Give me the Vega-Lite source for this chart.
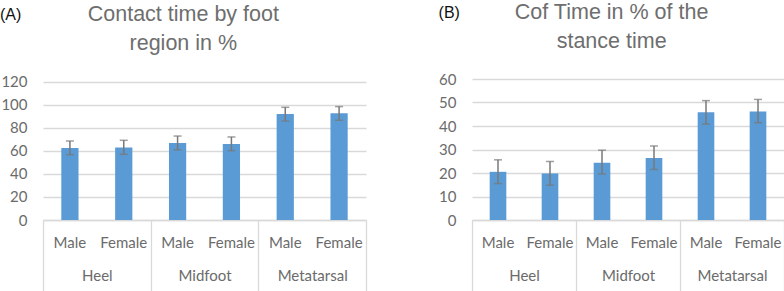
{
  "$schema": "https://vega.github.io/schema/vega-lite/v6.json",
  "padding": {"left": 0, "top": 1, "right": 0, "bottom": 0},
  "background": "white",
  "config": {
    "view": {"stroke": null},
    "font": "Lato",
    "axis": {"labelFont": "Lato", "labelFontSize": 15, "labelColor": "#6b6b6b"}
  },
  "datasets": {
    "a": [
      {"key": "Heel Male", "region": "Heel", "sex": "Male", "mean": 62.5, "lo": 56.8, "hi": 68.7},
      {"key": "Heel Female", "region": "Heel", "sex": "Female", "mean": 63, "lo": 57.1, "hi": 69.3},
      {"key": "Midfoot Male", "region": "Midfoot", "sex": "Male", "mean": 67, "lo": 61, "hi": 73},
      {"key": "Midfoot Female", "region": "Midfoot", "sex": "Female", "mean": 66.1, "lo": 60.3, "hi": 72.2},
      {"key": "Metatarsal Male", "region": "Metatarsal", "sex": "Male", "mean": 92.2, "lo": 86, "hi": 98},
      {"key": "Metatarsal Female", "region": "Metatarsal", "sex": "Female", "mean": 92.8, "lo": 86.7, "hi": 98.6}
    ],
    "b": [
      {"key": "Heel Male", "region": "Heel", "sex": "Male", "mean": 20.5, "lo": 15.5, "hi": 25.6},
      {"key": "Heel Female", "region": "Heel", "sex": "Female", "mean": 19.8, "lo": 14.8, "hi": 24.9},
      {"key": "Midfoot Male", "region": "Midfoot", "sex": "Male", "mean": 24.4, "lo": 19.6, "hi": 29.7},
      {"key": "Midfoot Female", "region": "Midfoot", "sex": "Female", "mean": 26.4, "lo": 21.5, "hi": 31.5},
      {"key": "Metatarsal Male", "region": "Metatarsal", "sex": "Male", "mean": 45.9, "lo": 40.8, "hi": 50.8},
      {"key": "Metatarsal Female", "region": "Metatarsal", "sex": "Female", "mean": 46.2, "lo": 41.4, "hi": 51.3}
    ]
  },
  "hconcat": [
    {
      "title": {"text": "(A)", "anchor": "start", "font": "Liberation Sans", "fontSize": 16, "fontWeight": "normal", "color": "#111111", "offset": -19},
      "vconcat": [
        {
          "width": 323,
          "height": 141,
          "title": {"text": ["Contact time by foot", "region in %"], "anchor": "middle", "frame": "bounds", "font": "Liberation Sans", "fontSize": 21.5, "fontWeight": "normal", "color": "#6e6e6e", "lineHeight": 29, "offset": 20},
          "data": {"name": "a"},
          "layer": [
            {
              "mark": {"type": "text", "text": ""},
              "encoding": {
                "x": {"field": "region", "type": "nominal", "sort": ["Heel", "Midfoot", "Metatarsal"], "scale": {"paddingInner": 0, "paddingOuter": 0},
                  "axis": {"orient": "bottom", "title": null, "domain": true, "domainColor": "#d9d9d9", "domainWidth": 1.3, "ticks": true, "tickBand": "extent", "tickSize": 71, "tickColor": "#d9d9d9", "tickWidth": 1.3, "labelPadding": -23, "labelAngle": 0}}
              }
            },
            {
              "encoding": {
                "x": {"field": "key", "type": "nominal", "sort": ["Heel Male", "Heel Female", "Midfoot Male", "Midfoot Female", "Metatarsal Male", "Metatarsal Female"], "scale": {"paddingInner": 0, "paddingOuter": 0},
                  "axis": {"orient": "bottom", "title": null, "domain": false, "ticks": false, "tickSize": 0, "labelPadding": 15, "labelAngle": 0, "labelExpr": "split(datum.label, ' ')[1]"}}
              },
              "layer": [
                {
                  "mark": {"type": "bar", "width": {"band": 0.32}, "color": "#5b9bd5"},
                  "encoding": {
                    "y": {"field": "mean", "type": "quantitative", "scale": {"domain": [0, 122.6], "nice": false},
                      "axis": {"title": null, "values": [0, 20, 40, 60, 80, 100, 120], "labelOverlap": false, "domain": false, "ticks": false, "tickSize": 0, "labelPadding": 16, "gridColor": "#d9d9d9", "gridWidth": 1.3, "minExtent": 43, "maxExtent": 43}}
                  }
                },
                {
                  "mark": {"type": "rule", "color": "#787878", "strokeWidth": 1.5},
                  "encoding": {"y": {"field": "lo", "type": "quantitative", "scale": {"domain": [0, 122.6], "nice": false},
                      "axis": {"title": null, "values": [0, 20, 40, 60, 80, 100, 120], "labelOverlap": false, "domain": false, "ticks": false, "tickSize": 0, "labelPadding": 16, "gridColor": "#d9d9d9", "gridWidth": 1.3, "minExtent": 43, "maxExtent": 43}}, "y2": {"field": "hi"}}
                },
                {
                  "mark": {"type": "tick", "color": "#787878", "size": 8, "thickness": 1.5},
                  "encoding": {"y": {"field": "lo", "type": "quantitative", "scale": {"domain": [0, 122.6], "nice": false},
                      "axis": {"title": null, "values": [0, 20, 40, 60, 80, 100, 120], "labelOverlap": false, "domain": false, "ticks": false, "tickSize": 0, "labelPadding": 16, "gridColor": "#d9d9d9", "gridWidth": 1.3, "minExtent": 43, "maxExtent": 43}}}
                },
                {
                  "mark": {"type": "tick", "color": "#787878", "size": 8, "thickness": 1.5},
                  "encoding": {"y": {"field": "hi", "type": "quantitative", "scale": {"domain": [0, 122.6], "nice": false},
                      "axis": {"title": null, "values": [0, 20, 40, 60, 80, 100, 120], "labelOverlap": false, "domain": false, "ticks": false, "tickSize": 0, "labelPadding": 16, "gridColor": "#d9d9d9", "gridWidth": 1.3, "minExtent": 43, "maxExtent": 43}}}
                }
              ]
            }
          ],
          "resolve": {"scale": {"x": "independent"}, "axis": {"x": "independent"}}
        }
      ]
    },
    {
      "title": {"text": "(B)", "anchor": "start", "font": "Liberation Sans", "fontSize": 16, "fontWeight": "normal", "color": "#111111", "offset": -19},
      "vconcat": [
        {
          "width": 312,
          "height": 141,
          "title": {"text": ["Cof Time in % of the", "stance time"], "anchor": "middle", "frame": "bounds", "font": "Liberation Sans", "fontSize": 21.5, "fontWeight": "normal", "color": "#6e6e6e", "lineHeight": 29, "offset": 20},
          "data": {"name": "b"},
          "layer": [
            {
              "mark": {"type": "text", "text": ""},
              "encoding": {
                "x": {"field": "region", "type": "nominal", "sort": ["Heel", "Midfoot", "Metatarsal"], "scale": {"paddingInner": 0, "paddingOuter": 0},
                  "axis": {"orient": "bottom", "title": null, "domain": true, "domainColor": "#d9d9d9", "domainWidth": 1.3, "ticks": true, "tickBand": "extent", "tickSize": 71, "tickColor": "#d9d9d9", "tickWidth": 1.3, "labelPadding": -23, "labelAngle": 0}}
              }
            },
            {
              "encoding": {
                "x": {"field": "key", "type": "nominal", "sort": ["Heel Male", "Heel Female", "Midfoot Male", "Midfoot Female", "Metatarsal Male", "Metatarsal Female"], "scale": {"paddingInner": 0, "paddingOuter": 0},
                  "axis": {"orient": "bottom", "title": null, "domain": false, "ticks": false, "tickSize": 0, "labelPadding": 15, "labelAngle": 0, "labelExpr": "split(datum.label, ' ')[1]"}}
              },
              "layer": [
                {
                  "mark": {"type": "bar", "width": {"band": 0.32}, "color": "#5b9bd5"},
                  "encoding": {
                    "y": {"field": "mean", "type": "quantitative", "scale": {"domain": [0, 60], "nice": false},
                      "axis": {"title": null, "values": [0, 10, 20, 30, 40, 50, 60], "labelOverlap": false, "domain": false, "ticks": false, "tickSize": 0, "labelPadding": 16, "gridColor": "#d9d9d9", "gridWidth": 1.3, "minExtent": 33, "maxExtent": 33}}
                  }
                },
                {
                  "mark": {"type": "rule", "color": "#787878", "strokeWidth": 1.5},
                  "encoding": {"y": {"field": "lo", "type": "quantitative", "scale": {"domain": [0, 60], "nice": false},
                      "axis": {"title": null, "values": [0, 10, 20, 30, 40, 50, 60], "labelOverlap": false, "domain": false, "ticks": false, "tickSize": 0, "labelPadding": 16, "gridColor": "#d9d9d9", "gridWidth": 1.3, "minExtent": 33, "maxExtent": 33}}, "y2": {"field": "hi"}}
                },
                {
                  "mark": {"type": "tick", "color": "#787878", "size": 8, "thickness": 1.5},
                  "encoding": {"y": {"field": "lo", "type": "quantitative", "scale": {"domain": [0, 60], "nice": false},
                      "axis": {"title": null, "values": [0, 10, 20, 30, 40, 50, 60], "labelOverlap": false, "domain": false, "ticks": false, "tickSize": 0, "labelPadding": 16, "gridColor": "#d9d9d9", "gridWidth": 1.3, "minExtent": 33, "maxExtent": 33}}}
                },
                {
                  "mark": {"type": "tick", "color": "#787878", "size": 8, "thickness": 1.5},
                  "encoding": {"y": {"field": "hi", "type": "quantitative", "scale": {"domain": [0, 60], "nice": false},
                      "axis": {"title": null, "values": [0, 10, 20, 30, 40, 50, 60], "labelOverlap": false, "domain": false, "ticks": false, "tickSize": 0, "labelPadding": 16, "gridColor": "#d9d9d9", "gridWidth": 1.3, "minExtent": 33, "maxExtent": 33}}}
                }
              ]
            }
          ],
          "resolve": {"scale": {"x": "independent"}, "axis": {"x": "independent"}}
        }
      ]
    }
  ],
  "spacing": 71
}
